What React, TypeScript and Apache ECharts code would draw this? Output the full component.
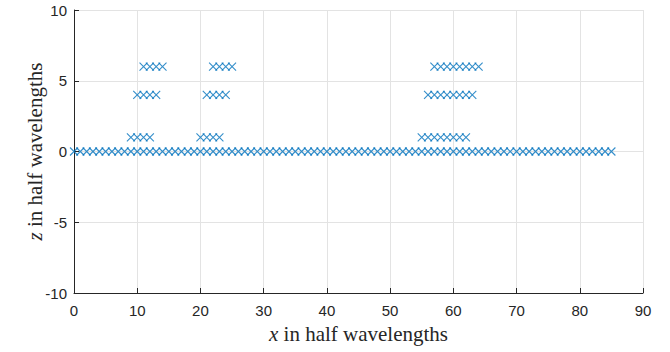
import React, { useEffect, useRef } from "react";
import * as echarts from "echarts";

const baseX = [0,1,2,3,4,5,6,7,8,9,10,11,12,13,14,15,16,17,18,19,20,21,22,23,24,25,26,27,28,29,30,31,32,33,34,35,36,37,38,39,40,41,42,43,44,45,46,47,48,49,50,51,52,53,54,55,56,57,58,59,60,61,62,63,64,65,66,67,68,69,70,71,72,73,74,75,76,77,78,79,80,81,82,83,84,85];
const baseZ = baseX.map(() => 0);

const z1X = [9,10,11,12,20,21,22,23,55,56,57,58,59,60,61,62];
const z1Z = [1,1,1,1,1,1,1,1,1,1,1,1,1,1,1,1];
const z4X = [10,11,12,13,21,22,23,24,56,57,58,59,60,61,62,63];
const z4Z = [4,4,4,4,4,4,4,4,4,4,4,4,4,4,4,4];
const z6X = [11,12,13,14,22,23,24,25,57,58,59,60,61,62,63,64];
const z6Z = [6,6,6,6,6,6,6,6,6,6,6,6,6,6,6,6];

const xTicks = [0,10,20,30,40,50,60,70,80,90];
const yTicks = [-10,-5,0,5,10];

const BLUE = "#0072BD";

export default function App() {
  const ref = useRef<HTMLDivElement>(null);
  useEffect(() => {
    const chart = echarts.init(ref.current!, null, { renderer: "svg" });
    const pts: number[][] = [];
    baseX.forEach((x, i) => pts.push([x, baseZ[i]]));
    z1X.forEach((x, i) => pts.push([x, z1Z[i]]));
    z4X.forEach((x, i) => pts.push([x, z4Z[i]]));
    z6X.forEach((x, i) => pts.push([x, z6Z[i]]));
    const axisCommon = {
      axisLine: { show: true, onZero: false, lineStyle: { color: "#262626", width: 1 } },
      axisTick: { show: true, inside: true, length: 5, lineStyle: { color: "#262626" } },
      splitLine: { show: true, lineStyle: { color: "#e3e3e3", width: 1 } },
      axisLabel: { color: "#262626", fontFamily: "Liberation Sans", fontSize: 15 },
    };
    const nameStyle = {
      fontFamily: "Liberation Serif",
      fontSize: 21,
      color: "#262626",
      rich: { i: { fontStyle: "italic", fontFamily: "Liberation Serif", fontSize: 21, color: "#262626" } },
    };
    chart.setOption({
      animation: false,
      grid: { left: 74, right: 27, top: 10, bottom: 59, containLabel: false, outerBoundsMode: "none" },
      xAxis: {
        type: "value",
        min: 0,
        max: 90,
        interval: 10,
        ...axisCommon,
        axisLabel: { ...axisCommon.axisLabel, margin: 10, customValues: xTicks },
        name: "{i|x} in half wavelengths",
        nameLocation: "middle",
        nameGap: 30,
        nameMoveOverlap: false,
        nameTextStyle: nameStyle,
      },
      yAxis: {
        type: "value",
        min: -10,
        max: 10,
        interval: 5,
        ...axisCommon,
        axisLabel: { ...axisCommon.axisLabel, margin: 7, customValues: yTicks },
        name: "{i|z} in half wavelengths",
        nameLocation: "middle",
        nameGap: 29,
        nameMoveOverlap: false,
        nameRotate: 90,
        nameTextStyle: nameStyle,
      },
      series: [
        {
          type: "scatter",
          data: pts,
          symbol: "path://M0,0L10,10M10,0L0,10",
          symbolSize: 8,
          itemStyle: { color: "none", borderColor: BLUE, borderWidth: 1.1 },
          emphasis: { disabled: true },
        },
      ],
    });
    return () => chart.dispose();
  }, []);
  return <div ref={ref} style={{ position: "absolute", left: 0, top: 0, width: 670, height: 352 }} />;
}
